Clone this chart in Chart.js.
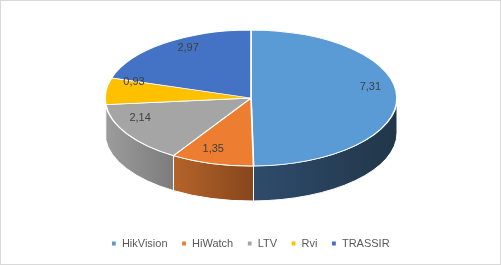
<!DOCTYPE html>
<html>
<head>
<meta charset="utf-8">
<script src="https://cdn.jsdelivr.net/npm/chart.js@4/dist/chart.umd.min.js"></script>
<style>
  html, body { margin: 0; padding: 0; background: #fff; }
  canvas { display: block; }
</style>
</head>
<body>
<canvas id="chart" width="501" height="265"></canvas>
<script>
'use strict';

/* ── Data ───────────────────────────────────────────── */
const brands = ['HikVision', 'HiWatch', 'LTV', 'Rvi', 'TRASSIR'];
const shares = [7.31, 1.35, 2.14, 0.93, 2.97];

const topColors  = ['#5b9bd5', '#ed7d31', '#a5a5a5', '#ffc000', '#4472c4'];
const sideLight  = ['#2f4c6c', '#b5642b', '#9c9c9c', '#b88a00', '#2f5190'];
const sideDark   = ['#213649', '#86461b', '#7c7c7c', '#8f6b00', '#233d6c'];

/* ── Tilted-disc geometry (screen px) ───────────────── */
const CX = 251, CY = 98, RX = 146, RY = 68, DEPTH = 35;

const fmt = v => v.toFixed(2).replace('.', ',');

// label placement: rough perspective model of Excel's 3-D pie
function labelPoint(angle) {
  const k = 0.83, p = 0.19;
  const u = k * Math.cos(angle), v = k * Math.sin(angle);
  const d = 1 - p * v;
  return { x: 251 + 144 * u / d, y: 87 + 65.5 * v / d };
}

const tiltPlugin = {
  id: 'tilt',
  beforeDraw(chart) {
    const ctx = chart.ctx;
    ctx.save();
    ctx.fillStyle = '#fff';
    ctx.fillRect(0, 0, chart.width, chart.height);
    ctx.strokeStyle = '#d9d9d9';
    ctx.lineWidth = 1;
    ctx.strokeRect(0.5, 0.5, chart.width - 1, chart.height - 1);
    ctx.restore();
  },
  beforeDatasetsDraw(chart) {
    const ctx = chart.ctx;
    const arcs = chart.getDatasetMeta(0).data;

    // side walls (front half only)
    arcs.forEach((arc, i) => {
      const a1 = Math.max(arc.startAngle, 0);
      const a2 = Math.min(arc.endAngle, Math.PI);
      if (a2 <= a1) return;
      const x1 = CX + RX * Math.cos(a1), x2 = CX + RX * Math.cos(a2);
      const g = ctx.createLinearGradient(Math.min(x1, x2), 0, Math.max(x1, x2), 0);
      g.addColorStop(0, sideLight[i]);
      g.addColorStop(1, sideDark[i]);
      ctx.beginPath();
      ctx.ellipse(CX, CY, RX, RY, 0, a1, a2);
      ctx.ellipse(CX, CY + DEPTH, RX, RY, 0, a2, a1, true);
      ctx.closePath();
      ctx.fillStyle = g;
      ctx.fill();
      ctx.strokeStyle = '#fff';
      ctx.lineWidth = 1;
      ctx.stroke();
    });

    // squash the library's round pie into the top face
    const { x, y, outerRadius: r } = arcs[0];
    ctx.save();
    ctx.translate(CX, CY);
    ctx.scale(RX / r, RY / r);
    ctx.translate(-x, -y);
  },
  afterDatasetsDraw(chart) {
    const ctx = chart.ctx;
    ctx.restore();

    const arcs = chart.getDatasetMeta(0).data;
    ctx.save();
    ctx.font = '11px "Liberation Sans", Arial, sans-serif';
    ctx.fillStyle = '#404040';
    ctx.textAlign = 'center';
    ctx.textBaseline = 'middle';
    arcs.forEach((arc, i) => {
      const mid = (arc.startAngle + arc.endAngle) / 2;
      const pt = labelPoint(mid);
      ctx.fillText(fmt(shares[i]), pt.x, pt.y);
    });
    ctx.restore();
  },
};

new Chart(document.getElementById('chart'), {
  type: 'pie',
  data: {
    labels: brands,
    datasets: [{
      data: shares,
      backgroundColor: topColors,
      borderColor: '#fff',
      borderWidth: 1.2,
    }],
  },
  options: {
    responsive: false,
    animation: false,
    events: [],
    layout: { padding: { top: 10, bottom: 6 } },
    plugins: {
      tooltip: { enabled: false },
      legend: {
        position: 'bottom',
        labels: {
          usePointStyle: true,
          pointStyle: 'rect',
          boxWidth: 5,
          boxHeight: 5,
          padding: 14,
          color: '#595959',
          font: { family: '"Liberation Sans", Arial, sans-serif', size: 11 },
        },
      },
    },
  },
  plugins: [tiltPlugin],
});
</script>
</body>
</html>
